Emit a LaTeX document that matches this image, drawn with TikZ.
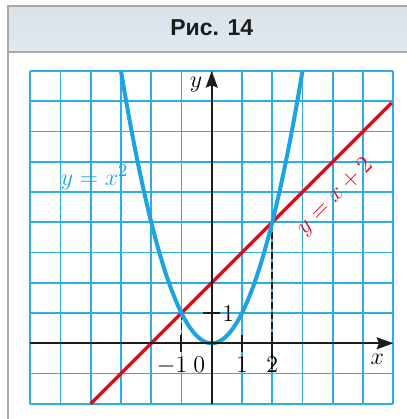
\documentclass[tikz,border=0pt]{standalone}
\usepackage{fontspec}
\newfontfamily\titlefont{Liberation Sans}
\usetikzlibrary{arrows.meta}
\definecolor{curvecyan}{HTML}{1BA3E2}
\definecolor{gridcyan}{HTML}{2EACE6}
\definecolor{redline}{HTML}{E30A17}
\definecolor{framegray}{HTML}{A9A9A9}
\definecolor{axisblack}{HTML}{1C1C1C}
\definecolor{hdtop}{HTML}{D8E2EA}
\definecolor{hdmid}{HTML}{F5F8FA}
\definecolor{hdbot}{HTML}{E2E9EF}
\tikzset{
  frameln/.style={draw=framegray, line width=1pt},
  gridln/.style={draw=gridcyan, line width=0.85pt},
  axisln/.style={draw=axisblack, line width=1pt, -{Stealth[length=8.3pt,width=6pt,inset=1.2pt]}},
  tickln/.style={draw=axisblack, line width=1pt},
  dashln/.style={draw=axisblack, line width=0.8pt, dash pattern=on 3.3pt off 1.7pt},
  parab/.style={draw=curvecyan, line width=2pt},
  redln/.style={draw=redline, line width=1.7pt},
  lbl/.style={font=\fontsize{12.5}{14}\selectfont, inner sep=0pt},
}
\begin{document}
\begin{tikzpicture}[x=15.125pt,y=15.125pt]
\useasboundingbox (-7.0,-2.503) rectangle (6.455,11.349);
\fill[white] (-7.0,-2.503) rectangle (6.455,11.349);
% header
\shade[top color=hdtop, middle color=hdmid, bottom color=hdbot] (-6.734,9.63) rectangle (6.455,11.15);
\draw[frameln] (-6.734,-2.503) -- (-6.734,11.15) -- (6.455,11.15);
\draw[frameln] (-6.734,9.63) -- (6.455,9.63);
\node[font=\titlefont\bfseries\fontsize{11.5}{13}\selectfont, text=axisblack] (title) at (0,10.42) {Рис. 14};
% grid
\foreach \gx in {-6,...,6} \draw[gridln] (\gx,-2) -- (\gx,9);
\foreach \gy in {-2,...,9} \draw[gridln] (-6,\gy) -- (6,\gy);
% coordinates
\coordinate (O) at (0,0);
\coordinate (xs) at (-6,0);
\coordinate (xe) at (6,0);
\coordinate (ys) at (0,-2);
\coordinate (ye) at (0,9);
\coordinate (A) at (-1,1);
\coordinate (B) at (2,4);
\coordinate (Ab) at (-1,0);
\coordinate (Bb) at (2,-0.94);
\coordinate (Ls) at (-4,-2);
\coordinate (Le) at (5.95,7.95);
% dashed
\draw[dashln] (A) -- (Ab);
\draw[dashln] (B) -- (Bb);
% curves
\draw[redln] (Ls) -- (Le);
\draw[parab] plot[domain=-3:3, samples=121, smooth] (\x,{\x*\x});
% axes
\draw[axisln] (xs) -- (xe);
\draw[axisln] (ys) -- (ye);
% ticks
\foreach \tx in {-1,1,2} \draw[tickln] (\tx,-0.28) -- (\tx,0.28);
\draw[tickln] (-0.28,1) -- (0.28,1);
% labels
\node[lbl, anchor=base] (lm1) at (-1,-0.95) {$\llap{$-$}1$};
\node[lbl, anchor=base] (l0) at (-0.41,-0.95) {$0$};
\node[lbl, anchor=base] (l1) at (1,-0.95) {$1$};
\node[lbl, anchor=base] (l2) at (2,-0.95) {$2$};
\node[lbl, anchor=base] (ly1) at (0.55,0.71) {$1$};
\node[lbl] (lx) at (5.47,-0.53) {$x$};
\node[lbl] (ly) at (-0.52,8.54) {$y$};
\node[lbl, anchor=base, text=curvecyan, font=\fontsize{13}{15}\selectfont] (lpar) at (-3.87,5.23) {$y = x^2$};
\node[lbl, rotate=45, text=redline] (lline) at (4.08,4.85) {$y = x + 2$};
\end{tikzpicture}
\end{document}
